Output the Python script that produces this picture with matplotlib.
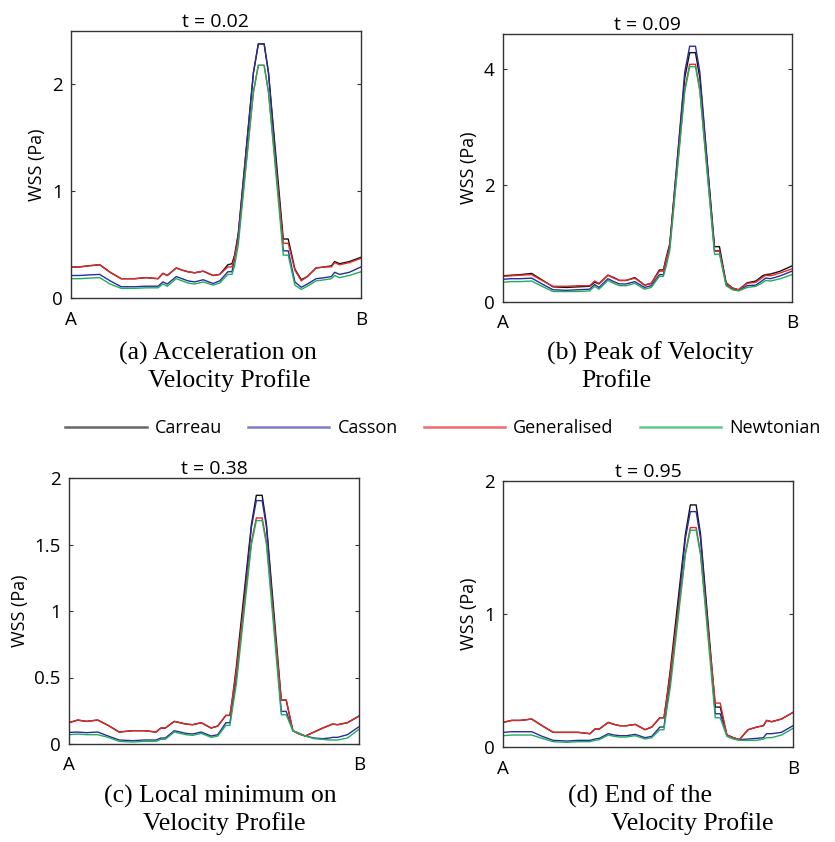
import matplotlib
matplotlib.use("Agg")
import matplotlib.pyplot as plt
from matplotlib.lines import Line2D
from matplotlib.ticker import FuncFormatter

plt.rcParams['font.family'] = ['Open Sans', 'DejaVu Sans']

# position along the wall from A (0) to B (1)
pos = [0, 0.03, 0.06, 0.099, 0.135, 0.173, 0.22, 0.26, 0.30, 0.317, 0.332, 0.363, 0.383,
       0.403, 0.426, 0.456, 0.49, 0.513, 0.541, 0.555, 0.564, 0.577, 0.629, 0.646, 0.666,
       0.681, 0.732, 0.749, 0.772, 0.794, 0.815, 0.845, 0.875, 0.898, 0.909, 0.926, 0.96, 1.0]

models = ['Carreau', 'Casson', 'Generalised', 'Newtonian']
colors = ['#111111', '#2c2c9c', '#e4282a', '#1fae5f']
legend_colors = ['#666666', '#7c7cc8', '#ef6b6b', '#5ccb8d']

# (a) t = 0.02
a_carreau = [0.29, 0.29, 0.30, 0.31, 0.24, 0.18, 0.18, 0.19, 0.18, 0.23, 0.21, 0.28, 0.26,
             0.245, 0.235, 0.25, 0.21, 0.22, 0.31, 0.32, 0.40, 0.60, 2.10, 2.37, 2.37,
             2.10, 0.55, 0.55, 0.27, 0.17, 0.20, 0.28, 0.29, 0.30, 0.34, 0.32, 0.34, 0.38]
a_casson = [0.21, 0.21, 0.215, 0.22, 0.16, 0.105, 0.105, 0.11, 0.11, 0.15, 0.13, 0.20, 0.18,
            0.16, 0.15, 0.17, 0.135, 0.16, 0.245, 0.245, 0.36, 0.60, 2.10, 2.37, 2.37,
            2.10, 0.44, 0.44, 0.15, 0.10, 0.13, 0.18, 0.19, 0.20, 0.24, 0.22, 0.24, 0.29]
a_general = [0.29, 0.29, 0.30, 0.31, 0.24, 0.18, 0.18, 0.19, 0.18, 0.23, 0.21, 0.28, 0.26,
             0.245, 0.235, 0.25, 0.21, 0.22, 0.29, 0.29, 0.38, 0.55, 1.92, 2.17, 2.17,
             1.92, 0.51, 0.51, 0.26, 0.16, 0.20, 0.28, 0.29, 0.29, 0.33, 0.31, 0.33, 0.37]
a_newton = [0.18, 0.18, 0.185, 0.19, 0.13, 0.09, 0.09, 0.095, 0.095, 0.13, 0.11, 0.18, 0.16,
            0.14, 0.13, 0.15, 0.12, 0.14, 0.22, 0.22, 0.30, 0.50, 1.92, 2.17, 2.17,
            1.92, 0.40, 0.40, 0.12, 0.08, 0.11, 0.16, 0.17, 0.18, 0.21, 0.19, 0.21, 0.245]

# (b) t = 0.09
b_carreau = [0.45, 0.46, 0.47, 0.49, 0.38, 0.26, 0.25, 0.26, 0.27, 0.34, 0.31, 0.46, 0.42,
             0.37, 0.37, 0.42, 0.29, 0.32, 0.55, 0.55, 0.75, 1.00, 3.85, 4.28, 4.28,
             3.85, 0.95, 0.95, 0.33, 0.24, 0.21, 0.33, 0.36, 0.45, 0.47, 0.48, 0.53, 0.62]
b_casson = [0.39, 0.40, 0.40, 0.41, 0.31, 0.21, 0.20, 0.21, 0.22, 0.30, 0.25, 0.40, 0.35,
            0.31, 0.31, 0.35, 0.25, 0.28, 0.47, 0.47, 0.68, 0.95, 3.95, 4.39, 4.39,
            3.95, 0.88, 0.88, 0.30, 0.22, 0.20, 0.28, 0.29, 0.37, 0.41, 0.40, 0.45, 0.53]
b_general = [0.44, 0.45, 0.46, 0.47, 0.37, 0.27, 0.27, 0.28, 0.28, 0.36, 0.32, 0.46, 0.41,
             0.37, 0.37, 0.41, 0.29, 0.32, 0.53, 0.53, 0.72, 0.95, 3.65, 4.08, 4.08,
             3.65, 0.87, 0.87, 0.32, 0.24, 0.21, 0.32, 0.34, 0.42, 0.46, 0.45, 0.50, 0.57]
b_newton = [0.34, 0.35, 0.35, 0.36, 0.27, 0.18, 0.18, 0.18, 0.19, 0.27, 0.22, 0.37, 0.32,
            0.28, 0.28, 0.32, 0.22, 0.25, 0.44, 0.44, 0.60, 0.88, 3.62, 4.04, 4.04,
            3.62, 0.82, 0.82, 0.28, 0.21, 0.19, 0.25, 0.27, 0.33, 0.37, 0.36, 0.40, 0.47]

# (c) t = 0.38
c_carreau = [0.16, 0.18, 0.17, 0.18, 0.14, 0.09, 0.10, 0.10, 0.09, 0.12, 0.12, 0.17, 0.16,
             0.15, 0.145, 0.16, 0.12, 0.135, 0.215, 0.215, 0.35, 0.58, 1.65, 1.87, 1.87,
             1.65, 0.33, 0.33, 0.10, 0.075, 0.06, 0.09, 0.12, 0.14, 0.15, 0.145, 0.16, 0.21]
c_casson = [0.087, 0.09, 0.085, 0.09, 0.06, 0.03, 0.025, 0.03, 0.03, 0.045, 0.045, 0.10, 0.09,
            0.08, 0.075, 0.09, 0.06, 0.07, 0.16, 0.16, 0.30, 0.50, 1.63, 1.83, 1.83,
            1.63, 0.245, 0.245, 0.10, 0.08, 0.06, 0.045, 0.04, 0.045, 0.05, 0.05, 0.07, 0.13]
c_general = [0.16, 0.18, 0.17, 0.18, 0.14, 0.09, 0.10, 0.10, 0.09, 0.12, 0.12, 0.17, 0.16,
             0.15, 0.145, 0.16, 0.12, 0.135, 0.215, 0.215, 0.35, 0.55, 1.52, 1.70, 1.70,
             1.52, 0.33, 0.33, 0.10, 0.075, 0.06, 0.09, 0.12, 0.14, 0.15, 0.145, 0.16, 0.21]
c_newton = [0.07, 0.075, 0.07, 0.07, 0.05, 0.02, 0.015, 0.02, 0.02, 0.035, 0.035, 0.09, 0.08,
            0.07, 0.065, 0.08, 0.05, 0.06, 0.14, 0.14, 0.27, 0.45, 1.50, 1.68, 1.68,
            1.50, 0.22, 0.22, 0.10, 0.08, 0.06, 0.04, 0.035, 0.03, 0.03, 0.03, 0.045, 0.11]

# (d) t = 0.95
d_carreau = [0.185, 0.20, 0.20, 0.21, 0.16, 0.11, 0.11, 0.11, 0.10, 0.135, 0.135, 0.185, 0.17,
             0.16, 0.16, 0.17, 0.13, 0.15, 0.22, 0.22, 0.36, 0.58, 1.60, 1.82, 1.82,
             1.60, 0.30, 0.30, 0.09, 0.07, 0.055, 0.13, 0.15, 0.16, 0.20, 0.19, 0.21, 0.26]
d_casson = [0.11, 0.115, 0.115, 0.115, 0.08, 0.05, 0.045, 0.05, 0.05, 0.06, 0.065, 0.10, 0.09,
            0.085, 0.085, 0.095, 0.07, 0.08, 0.15, 0.15, 0.30, 0.50, 1.57, 1.77, 1.77,
            1.57, 0.25, 0.25, 0.09, 0.07, 0.055, 0.06, 0.065, 0.07, 0.10, 0.10, 0.11, 0.16]
d_general = [0.185, 0.20, 0.20, 0.21, 0.16, 0.11, 0.11, 0.11, 0.10, 0.135, 0.135, 0.185, 0.17,
             0.16, 0.16, 0.17, 0.13, 0.15, 0.22, 0.22, 0.35, 0.55, 1.46, 1.65, 1.65,
             1.46, 0.33, 0.33, 0.09, 0.07, 0.055, 0.13, 0.15, 0.16, 0.20, 0.19, 0.21, 0.26]
d_newton = [0.085, 0.09, 0.09, 0.09, 0.065, 0.04, 0.035, 0.04, 0.04, 0.05, 0.055, 0.09, 0.08,
            0.075, 0.075, 0.085, 0.06, 0.07, 0.13, 0.13, 0.27, 0.45, 1.45, 1.63, 1.63,
            1.45, 0.22, 0.22, 0.08, 0.06, 0.05, 0.05, 0.05, 0.06, 0.07, 0.07, 0.09, 0.14]

titles = ['t = 0.02', 't = 0.09', 't = 0.38', 't = 0.95']
ylims = [2.49, 4.6, 2.0, 2.0]
yticks = [[0, 1, 2], [0, 2, 4], [0, 0.5, 1, 1.5, 2], [0, 1, 2]]
series = [[a_carreau, a_casson, a_general, a_newton],
          [b_carreau, b_casson, b_general, b_newton],
          [c_carreau, c_casson, c_general, c_newton],
          [d_carreau, d_casson, d_general, d_newton]]

W, H = 835, 842
fig = plt.figure(figsize=(W / 100, H / 100), dpi=100)

# axes boxes in pixels: left, top, right, bottom
boxes = [(71, 31, 361, 298), (503, 34, 792, 302), (69, 478, 359, 744), (503, 481, 793, 747)]

for i, (l, t, r, b) in enumerate(boxes):
    ax = fig.add_axes([l / W, 1 - b / H, (r - l) / W, (b - t) / H])
    for vals, c in zip(series[i], colors):
        ax.plot(pos, vals, color=c, lw=1.0)
    ax.set_xlim(0, 1)
    ax.set_ylim(0, ylims[i])
    ax.set_yticks(yticks[i])
    ax.yaxis.set_major_formatter(FuncFormatter(lambda v, p: '%g' % v))
    ax.set_xticks([0, 1])
    ax.set_xticklabels(['A', 'B'])
    ax.tick_params(axis='x', length=0, pad=9, labelsize=13.5)
    ax.tick_params(axis='y', direction='in', length=3, right=True, pad=6, labelsize=13.5,
                   color='#333333')
    ax.set_ylabel('WSS (Pa)', fontsize=13, labelpad=4)
    ax.set_title(titles[i], fontsize=14, pad=3)
    for s in ax.spines.values():
        s.set_color('#333333')
        s.set_linewidth(1.0)

# captions under each panel
captions = [('(a) Acceleration on', 218, 353), ('Velocity Profile', 229, 381),
            ('(b) Peak of Velocity', 650, 353), ('Profile', 616, 381),
            ('(c) Local minimum on', 220, 796), ('Velocity Profile', 224, 824),
            ('(d) End of the', 640, 796), ('Velocity Profile', 692, 824)]
for txt, x, y in captions:
    fig.text(x / W, 1 - y / H, txt, ha='center', va='center', fontsize=18.5,
             family='Liberation Serif')

handles = [Line2D([], [], color=c, lw=1.8) for c in legend_colors]
fig.legend(handles, models, loc='center', bbox_to_anchor=(443 / W, 1 - 428 / H), ncol=4,
           frameon=False, fontsize=13, handlelength=4.5, handletextpad=0.45,
           columnspacing=1.45)

fig.savefig('out.png', dpi=100)
